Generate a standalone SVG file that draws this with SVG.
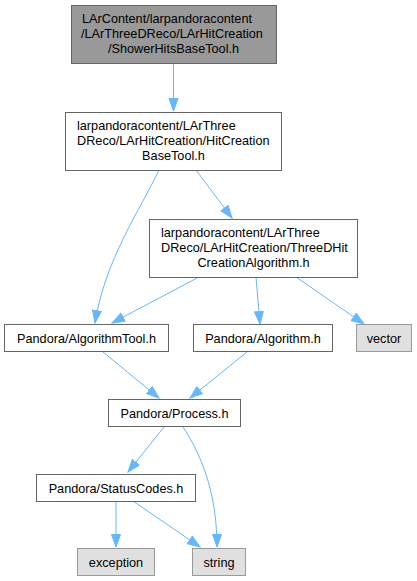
<svg xmlns="http://www.w3.org/2000/svg" width="417" height="581" viewBox="0 0 417 581">
<defs>
<style>
text{font-family:"Liberation Sans",Arial,sans-serif;font-size:12.7px;fill:#000}
.c{text-anchor:middle}
.n rect{fill:#fff;stroke:#666;stroke-width:1}
.g rect{fill:#999;stroke:#666;stroke-width:1}
.x rect{fill:#e0e0e0;stroke:#999;stroke-width:1}
.e path{fill:none;stroke:#63b8ff;stroke-width:1;marker-end:url(#a)}
</style>
<marker id="a" markerUnits="userSpaceOnUse" markerWidth="14" markerHeight="11" refX="13" refY="5" orient="auto">
<path d="M0.5,0.5 L13,5 L0.5,9.5 z" fill="#63b8ff" stroke="#63b8ff"/>
</marker>
</defs>
<rect width="417" height="581" fill="#fff"/>
<g id="edges" class="e">
<path d="M173.5,64 L173.5,111"/>
<path d="M159,170 C140,210 105,260 95,323"/>
<path d="M196,170 L232,218"/>
<path d="M199,277 L112,323"/>
<path d="M256,277 L260,324"/>
<path d="M296,277 L364,324"/>
<path d="M103,352 L159,398"/>
<path d="M247,352 L190,398"/>
<path d="M164,427 L128,472"/>
<path d="M183,427 C205,460 217,500 217,547"/>
<path d="M116,501 L116,547"/>
<path d="M133,501 L200,547"/>
</g>
<g id="node1" class="g">
<rect x="71.5" y="5.5" width="205" height="58"/>
<text x="82" y="23">LArContent/larpandoracontent</text>
<text x="81" y="38">/LArThreeDReco/LArHitCreation</text>
<text x="173.5" y="53" class="c">/ShowerHitsBaseTool.h</text>
</g>
<g id="node2" class="n">
<rect x="65.5" y="112.5" width="216" height="58"/>
<text x="77" y="130">larpandoracontent/LArThree</text>
<text x="77" y="145">DReco/LArHitCreation/HitCreation</text>
<text x="173.5" y="160" class="c">BaseTool.h</text>
</g>
<g id="node3" class="n">
<rect x="149.5" y="219.5" width="208" height="58"/>
<text x="161" y="237">larpandoracontent/LArThree</text>
<text x="161" y="252">DReco/LArHitCreation/ThreeDHit</text>
<text x="253.5" y="267" class="c">CreationAlgorithm.h</text>
</g>
<g id="node4" class="n">
<rect x="4.5" y="324.5" width="164" height="27"/>
<text x="86.5" y="342.5" class="c">Pandora/AlgorithmTool.h</text>
</g>
<g id="node5" class="n">
<rect x="193.5" y="324.5" width="139" height="27"/>
<text x="263" y="342.5" class="c">Pandora/Algorithm.h</text>
</g>
<g id="node6" class="x">
<rect x="356.5" y="324.5" width="55" height="27"/>
<text x="384" y="342.5" class="c">vector</text>
</g>
<g id="node7" class="n">
<rect x="108.5" y="399.5" width="132" height="27"/>
<text x="174.5" y="417.5" class="c">Pandora/Process.h</text>
</g>
<g id="node8" class="n">
<rect x="36.5" y="474.5" width="159" height="27"/>
<text x="116" y="492.5" class="c">Pandora/StatusCodes.h</text>
</g>
<g id="node9" class="x">
<rect x="77.5" y="548.5" width="77" height="27"/>
<text x="116" y="566.5" class="c">exception</text>
</g>
<g id="node10" class="x">
<rect x="192.5" y="548.5" width="53" height="27"/>
<text x="219" y="566.5" class="c">string</text>
</g>
</svg>
